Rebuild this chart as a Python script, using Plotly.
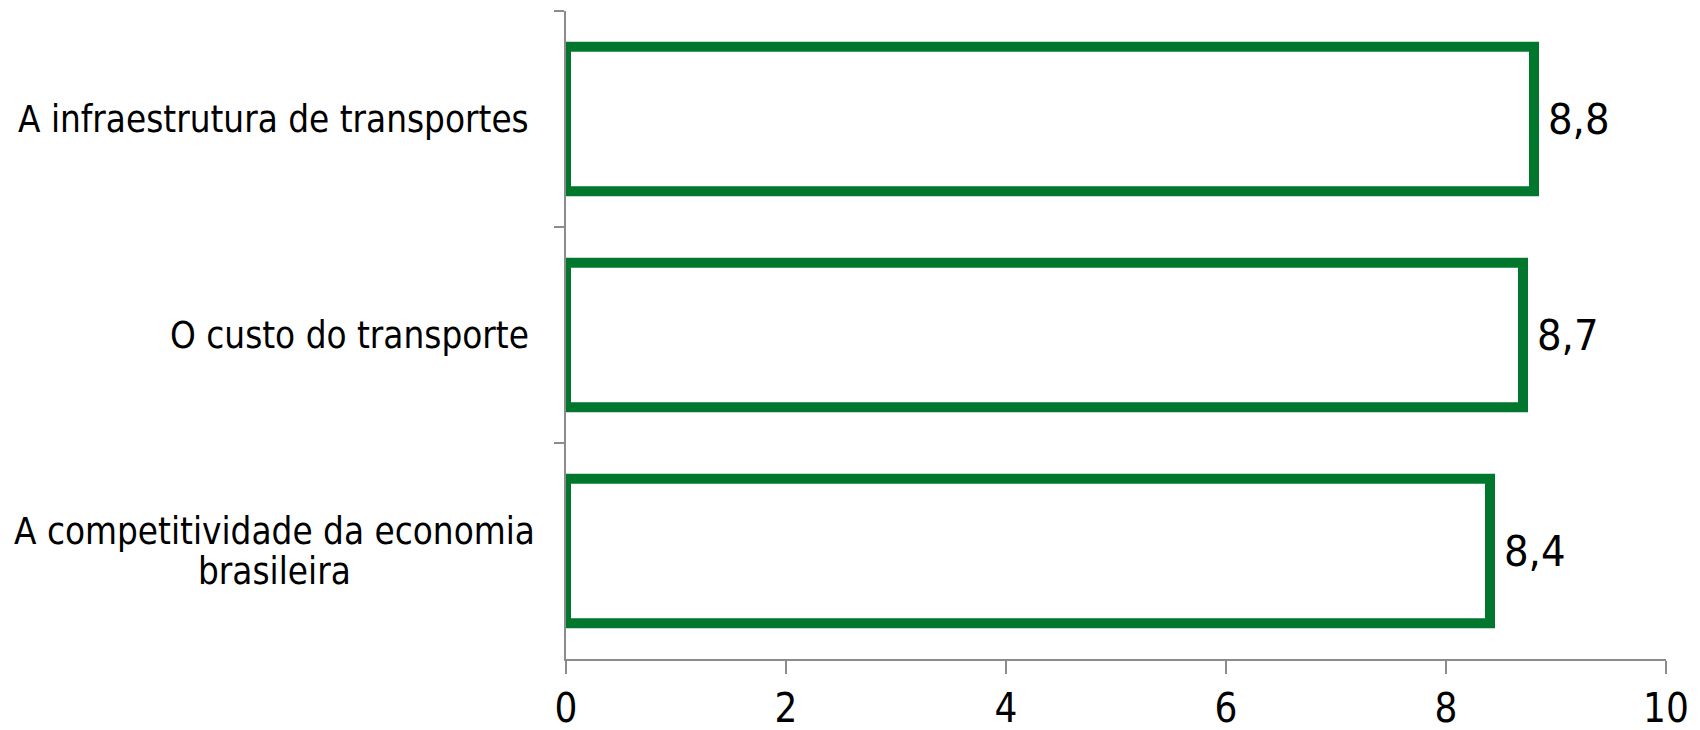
import plotly.graph_objects as go

# categories listed top to bottom, as in the chart
categories = [
    "A infraestrutura de transportes",
    "O custo do transporte",
    "A competitividade da economia<br>brasileira",
]
values = [8.8, 8.7, 8.4]
x_ticks = [0, 2, 4, 6, 8, 10]

green = "#00772C"
axis_grey = "#8C8C8C"
font_family = "DejaVu Sans Condensed, Liberation Sans Narrow, sans-serif"
label_size = 36.5

fig = go.Figure(
    go.Bar(
        x=values,
        y=categories,
        orientation="h",
        marker=dict(color="white", line=dict(color=green, width=10)),
        width=0.67,
        hoverinfo="x+y",
    )
)

# value labels to the right of each bar
for cat, val in zip(categories, values):
    fig.add_annotation(
        x=val, xref="x", y=cat, yref="y",
        text=f"{val:.1f}".replace(".", ","), showarrow=False,
        xanchor="left", yanchor="middle", xshift=12,
        font=dict(size=43, color="black", family=font_family),
    )

# category labels as annotations, line by line, so wrapped labels are centred
line_gap = 40
for cat in categories:
    lines = cat.split("<br>")
    n = len(lines)
    widest = max(len(s) for s in lines)
    block_w = widest * 0.485 * label_size
    for i, line in enumerate(lines):
        if n == 1:
            anchor, shift = "right", -35
        else:
            anchor, shift = "center", -35 - block_w / 2
        fig.add_annotation(
            x=0, xref="paper", y=cat, yref="y",
            text=line, showarrow=False,
            xanchor=anchor, yanchor="middle", xshift=shift,
            yshift=((n - 1) / 2 - i) * line_gap,
            font=dict(size=label_size, color="black", family=font_family),
        )

# the page body adds an 8px offset, so the figure is sized to fit inside it
fig.update_layout(
    width=1692, height=722,
    margin=dict(l=558, r=34, t=3, b=71),
    plot_bgcolor="white", paper_bgcolor="white",
    showlegend=False,
    font=dict(family=font_family, color="black"),
)
fig.update_xaxes(
    range=[0, 10], tickvals=x_ticks, automargin=False,
    showgrid=False, zeroline=False,
    showline=True, linecolor=axis_grey, linewidth=2,
    ticks="outside", ticklen=13, tickwidth=2, tickcolor=axis_grey,
    ticklabelstandoff=0,
    tickfont=dict(size=40, color="black", family=font_family),
)
fig.update_yaxes(
    autorange="reversed", tickson="boundaries", automargin=False,
    showticklabels=False, showgrid=False,
    showline=True, linecolor=axis_grey, linewidth=2,
    ticks="outside", ticklen=10, tickwidth=2, tickcolor=axis_grey,
)

fig.write_html("out.html")
